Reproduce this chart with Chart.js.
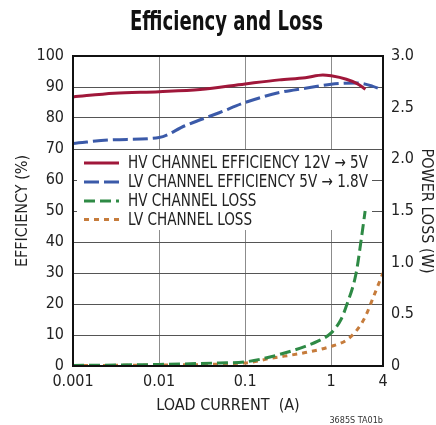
<!DOCTYPE html>
<html>
<head>
<meta charset="utf-8">
<script src="https://cdn.jsdelivr.net/npm/chart.js@4.4.0/dist/chart.umd.min.js"></script>
<style>
  html, body { margin: 0; padding: 0; background: #fff; }
  #c { display: block; }
</style>
</head>
<body>
<canvas id="c" width="436" height="425"></canvas>
<script>
// ---- data ----
const chartTitle = 'Efficiency and Loss';
const footerNote = '3685S TA01b';
const xTicks = [0.001, 0.01, 0.1, 1, 4];
const xTickLabels = ['0.001', '0.01', '0.1', '1', '4'];

const hvEffCurrent = [0.001, 0.003, 0.01, 0.03, 0.1, 0.25, 0.5, 0.8, 1, 1.5, 2, 2.5];
const hvEff        = [86.8, 88.0, 88.5, 89.2, 91.0, 92.3, 93.0, 93.9, 93.6, 92.5, 91.1, 89.3];

const lvEffCurrent = [0.001, 0.003, 0.01, 0.02, 0.05, 0.1, 0.25, 0.5, 1, 2, 3, 4];
const lvEff        = [71.8, 73.0, 73.7, 77.5, 81.7, 85.0, 88.2, 89.6, 90.9, 91.3, 90.3, 88.9];

const hvLossCurrent = [0.001, 0.01, 0.05, 0.1, 0.2, 0.5, 0.7, 1, 1.3, 1.5, 1.95, 2.23, 2.48];
const hvLoss        = [0.005, 0.015, 0.03, 0.04, 0.09, 0.19, 0.24, 0.32, 0.45, 0.58, 0.9, 1.22, 1.5];

const lvLossCurrent = [0.001, 0.01, 0.1, 0.2, 0.5, 1, 1.5, 2, 2.5, 3.1, 4];
const lvLoss        = [0.003, 0.01, 0.03, 0.075, 0.13, 0.19, 0.25, 0.35, 0.48, 0.67, 0.9];

const seriesLabels = [
  'HV CHANNEL EFFICIENCY 12V \u2192 5V',
  'LV CHANNEL EFFICIENCY 5V \u2192 1.8V',
  'HV CHANNEL LOSS',
  'LV CHANNEL LOSS'
];

// ---- styling ----
const FONT = "'Liberation Sans Narrow', 'Arial Narrow', 'DejaVu Sans Condensed', 'Liberation Sans', sans-serif";
const TEXT = '#222';
const pairs = (xs, ys) => xs.map((x, i) => ({ x: x, y: ys[i] }));

Chart.defaults.font.family = FONT;
Chart.defaults.color = TEXT;

const styles = [
  { color: '#a0173a', dash: [] },
  { color: '#3b5aa9', dash: [15, 5] },
  { color: '#2e8a45', dash: [11, 5] },
  { color: '#c67c3c', dash: [5, 5] }
];

function ds(i, xs, ys, axis) {
  return {
    label: seriesLabels[i],
    data: pairs(xs, ys),
    yAxisID: axis,
    borderColor: styles[i].color,
    backgroundColor: styles[i].color,
    borderDash: styles[i].dash,
    borderWidth: 3,
    pointRadius: 0,
    fill: false,
    cubicInterpolationMode: 'monotone'
  };
}

const legendPlugin = {
  id: 'inLegend',
  beforeDatasetsDraw(chart) {
    const { ctx, chartArea } = chart;
    ctx.save();
    // white legend panel that hides the grid
    ctx.fillStyle = '#fff';
    ctx.fillRect(chartArea.left + 4, chartArea.top + 94, 295, 80);
    ctx.font = '17px ' + FONT;
    const sx = 240 / ctx.measureText(seriesLabels[0]).width;
    const rowY = [163, 182, 201, 219.5];
    chart.data.datasets.forEach((d, i) => {
      const y = rowY[i];
      ctx.strokeStyle = d.borderColor;
      ctx.lineWidth = 3;
      ctx.setLineDash(d.borderDash);
      ctx.beginPath();
      ctx.moveTo(84, y);
      ctx.lineTo(119, y);
      ctx.stroke();
      ctx.setLineDash([]);
      ctx.save();
      ctx.translate(128, y + 1);
      ctx.scale(sx, 1);
      ctx.fillStyle = TEXT;
      ctx.textBaseline = 'middle';
      ctx.textAlign = 'left';
      ctx.fillText(d.label, 0, 0);
      ctx.restore();
    });
    ctx.restore();
  },
  afterDatasetsDraw(chart) {
    const { ctx, chartArea } = chart;
    ctx.save();
    ctx.strokeStyle = '#111';
    ctx.lineWidth = 2;
    ctx.strokeRect(chartArea.left, chartArea.top, chartArea.right - chartArea.left, chartArea.bottom - chartArea.top);
    ctx.restore();
  },
  afterDraw(chart) {
    const { ctx } = chart;
    ctx.save();
    ctx.fillStyle = '#111';
    ctx.font = 'bold 27px ' + FONT;
    const w = ctx.measureText(chartTitle).width;
    ctx.translate(226.5, 30);
    ctx.scale(193 / w, 1);
    ctx.textAlign = 'center';
    ctx.textBaseline = 'alphabetic';
    ctx.fillText(chartTitle, 0, 0);
    ctx.restore();
    ctx.save();
    ctx.fillStyle = '#333';
    ctx.font = '9px ' + FONT;
    ctx.textAlign = 'right';
    ctx.textBaseline = 'middle';
    ctx.fillText(footerNote, 383, 421);
    ctx.restore();
  }
};

new Chart(document.getElementById('c'), {
  type: 'line',
  data: {
    datasets: [
      ds(0, hvEffCurrent, hvEff, 'y'),
      ds(1, lvEffCurrent, lvEff, 'y'),
      ds(2, hvLossCurrent, hvLoss, 'y1'),
      ds(3, lvLossCurrent, lvLoss, 'y1')
    ]
  },
  options: {
    responsive: false,
    animation: false,
    devicePixelRatio: 1,
    layout: { padding: { top: 56, left: 0, right: 0, bottom: 0 } },
    plugins: { legend: { display: false }, title: { display: false }, tooltip: { enabled: false } },
    scales: {
      x: {
        type: 'logarithmic',
        min: 0.001,
        max: 4,
        afterBuildTicks: s => { s.ticks = xTicks.map(v => ({ value: v })); },
        afterFit: s => { s.height = 59; },
        ticks: {
          callback: (v, i) => xTickLabels[i],
          autoSkip: false, maxRotation: 0, padding: 6,
          font: { size: 16 }, color: TEXT
        },
        grid: {
          color: c => (c.tick && (c.tick.value === xTicks[0] || c.tick.value === xTicks[xTicks.length - 1])) ? 'rgba(0,0,0,0)' : '#8c8c8c',
          lineWidth: 1, drawTicks: false
        },
        border: { display: false },
        title: { display: true, text: 'LOAD CURRENT  (A)', font: { size: 16 }, color: TEXT, padding: { top: 0, bottom: 10 } }
      },
      y: {
        position: 'left',
        min: 0, max: 100,
        afterFit: s => { s.width = 73; },
        ticks: { stepSize: 10, padding: 9, font: { size: 16 }, color: TEXT },
        grid: { color: '#555', lineWidth: 1, drawTicks: false },
        border: { display: false },
        title: { display: true, text: 'EFFICIENCY (%)', font: { size: 16 }, color: TEXT, padding: { top: 13, bottom: 0 } }
      },
      y1: {
        position: 'right',
        min: 0, max: 3,
        afterFit: s => { s.width = 53; },
        ticks: { stepSize: 0.5, padding: 8, font: { size: 16 }, color: TEXT,
                 callback: v => v === 0 ? '0' : v.toFixed(1) },
        grid: { display: false, drawTicks: false },
        border: { display: false },
        title: { display: true, text: 'POWER LOSS (W)', font: { size: 16 }, color: TEXT, padding: { top: 0, bottom: 0 } }
      }
    }
  },
  plugins: [legendPlugin]
});
</script>
</body>
</html>
